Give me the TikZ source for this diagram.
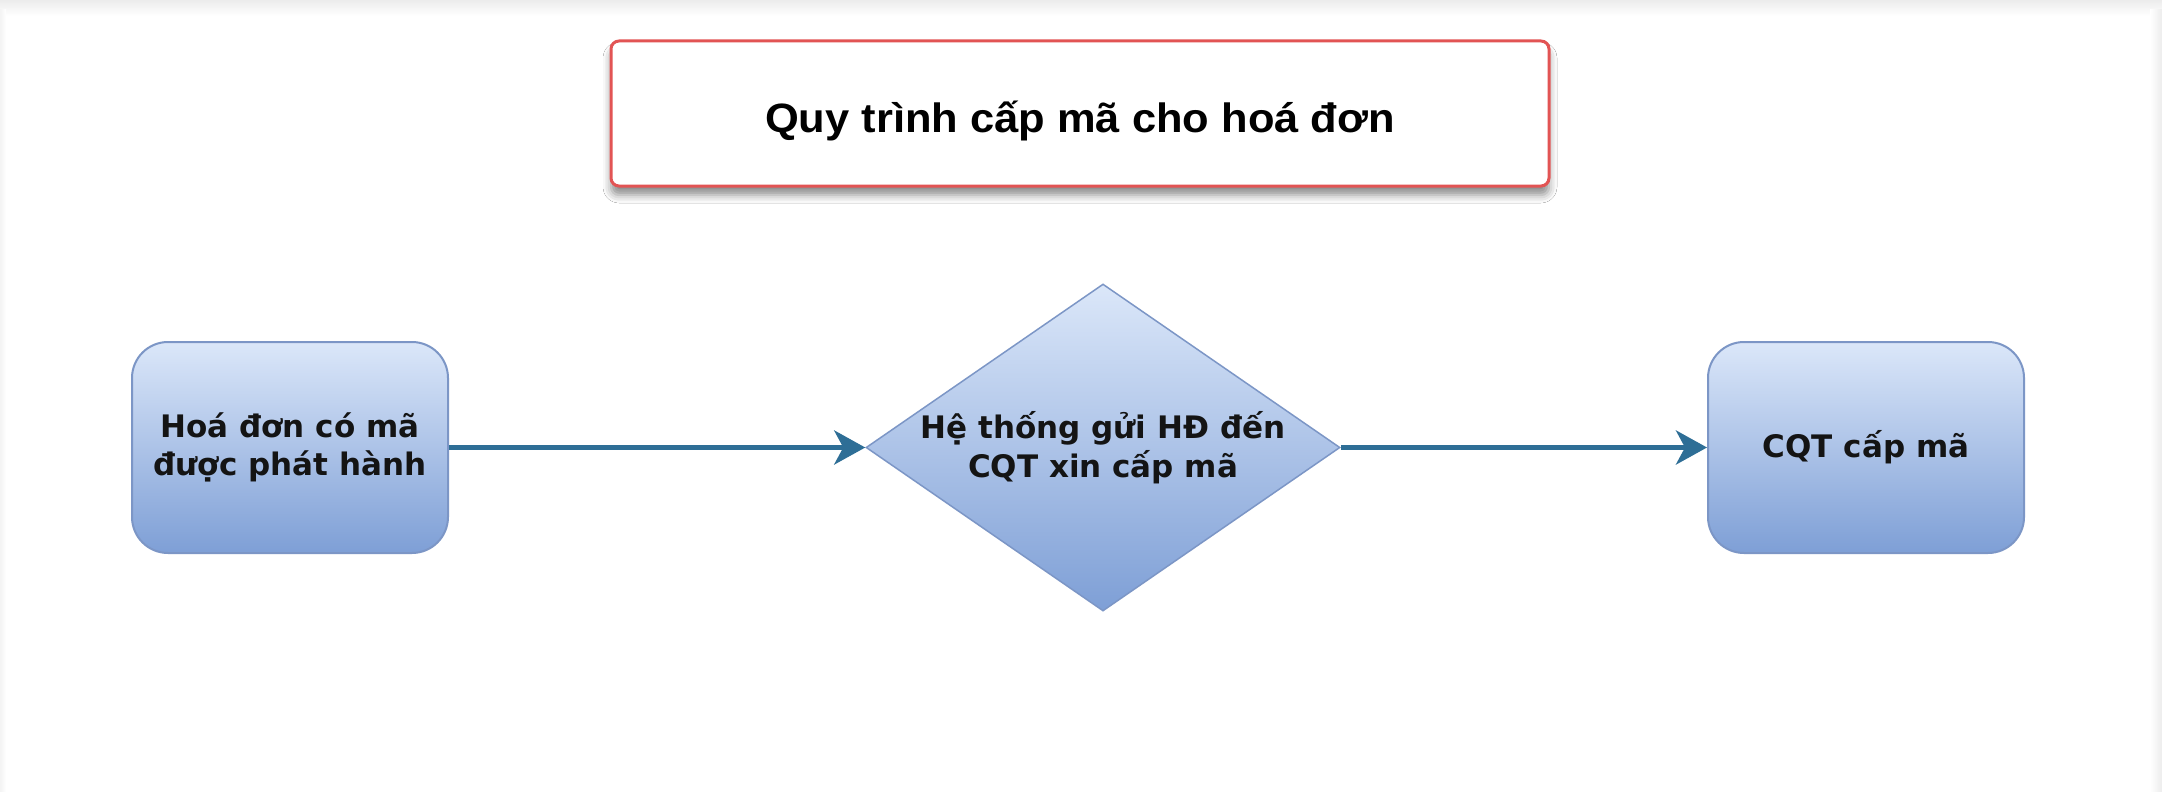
\documentclass[tikz,border=0pt]{standalone}
\usepackage{fontspec}
\newfontfamily\titlefont[FakeStretch=1.06]{Liberation Sans}
\newfontfamily\boxfont{DejaVu Sans}
\usetikzlibrary{shapes.geometric,arrows.meta,shadows.blur}
\definecolor{boxtop}{RGB}{219,231,249}
\definecolor{boxbot}{RGB}{126,159,214}
\definecolor{boxline}{RGB}{124,150,198}
\definecolor{arrowc}{RGB}{46,110,150}
\definecolor{titleline}{RGB}{226,84,84}
\definecolor{edgegray}{RGB}{236,236,236}
\begin{document}
\begin{tikzpicture}[x=1pt,y=1pt,
  procbox/.style={draw=boxline, line width=2pt, rounded corners=36pt,
    top color=boxtop, bottom color=boxbot,
    minimum width=316pt, minimum height=211pt, inner sep=0pt, align=center,
    font=\boxfont\bfseries\fontsize{31}{38}\selectfont, text=black!92},
  decision/.style={shape=diamond, aspect=1.45, draw=boxline, line width=1.5pt,
    top color=boxtop, bottom color=boxbot,
    minimum width=474pt, minimum height=327pt, inner sep=0pt, align=center,
    font=\boxfont\bfseries\fontsize{31}{39}\selectfont, text=black!92},
  titlebox/.style={draw=titleline, line width=3pt, rounded corners=8pt, fill=white,
    minimum width=938pt, minimum height=145pt, inner sep=0pt,
    blur shadow={shadow xshift=0pt, shadow yshift=-9pt, shadow blur radius=8pt, shadow opacity=45},
    font=\titlefont\bfseries\fontsize{41}{46}\selectfont},
  flow/.style={draw=arrowc, line width=5pt, -{Stealth[length=31pt, width=34pt, inset=9pt]}}
]
% page and its edges
\fill[white] (0,0) rectangle (2162,-792);
\useasboundingbox (0,0) rectangle (2162,-792);
\shade[top color=edgegray, bottom color=white] (0,0) rectangle (2162,-16);
\shade[left color=white, right color=edgegray] (2150,-10) rectangle (2162,-792);
\shade[left color=edgegray!60, right color=white] (0,-10) rectangle (6,-792);

\node[titlebox] (title) at (1080,-113.5) {\raisebox{-7pt}[\height][\depth]{Quy trình cấp mã cho hoá đơn}};

\node[procbox] (src) at (290,-447.5) {Hoá đơn có mã\\được phát hành};
\node[decision] (sys) at (1103,-447.5) {Hệ thống gửi HĐ đến\\CQT xin cấp mã};
\node[procbox] (cqt) at (1866,-447.5) {CQT cấp mã};

\draw[flow] (src) -- (sys);
\draw[flow] (sys) -- (cqt);
\end{tikzpicture}
\end{document}
